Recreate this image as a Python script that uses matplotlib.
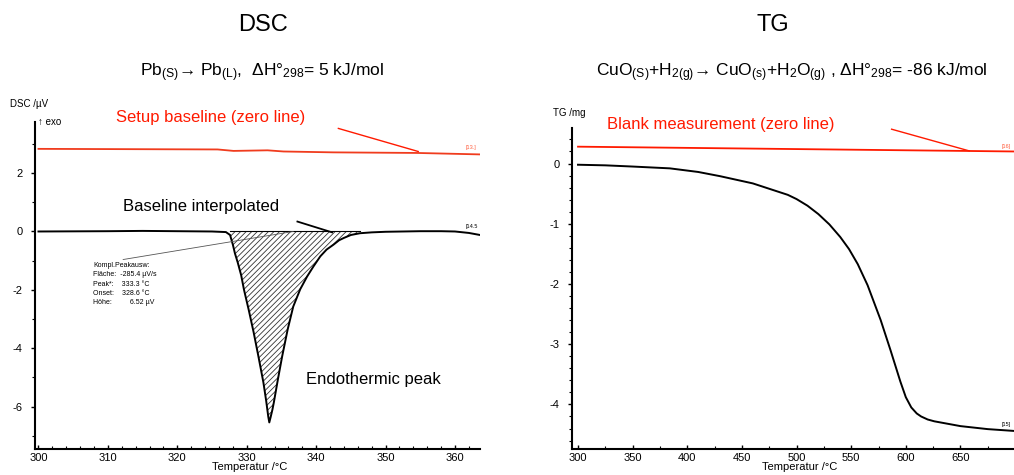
import matplotlib
matplotlib.use("Agg")
import matplotlib.pyplot as plt
from matplotlib.ticker import MultipleLocator
import numpy as np

plt.rcParams['font.family'] = ['Liberation Sans', 'DejaVu Sans']
plt.rcParams['mathtext.fontset'] = 'custom'
plt.rcParams['mathtext.rm'] = 'Liberation Sans'
plt.rcParams['mathtext.it'] = 'Liberation Sans:italic'
plt.rcParams['hatch.linewidth'] = 0.6
plt.rcParams['axes.unicode_minus'] = False

# DSC data (Pb melting)
dsc_T = [300, 305, 310, 315, 320, 325, 327.0, 327.6, 328.0, 328.3, 328.7, 329.2, 329.6,
         330.3, 331.0, 331.7, 332.4, 332.8, 333.1, 333.25, 333.45, 333.7, 333.9, 334.5,
         335.1, 335.9, 336.7, 337.7, 338.7, 339.6, 340.6, 341.5, 342.5, 343.3, 344.0,
         345.0, 346.3, 348, 350, 355, 358, 360, 362, 363.6]
dsc_v = [0.0, 0.005, 0.01, 0.02, 0.01, 0.0, -0.02, -0.12, -0.45, -0.75, -1.06, -1.5, -1.99,
         -2.7, -3.46, -4.3, -5.17, -5.8, -6.34, -6.54, -6.35, -6.1, -5.86, -5.05,
         -4.28, -3.35, -2.57, -1.98, -1.54, -1.2, -0.85, -0.62, -0.45, -0.3, -0.22,
         -0.12, -0.06, -0.03, -0.01, 0.01, 0.01, 0.0, -0.05, -0.12]
dsc_base_T = [300, 325.8, 328.1, 333, 335.3, 342.5, 354.5, 363.6]
dsc_base_v = [2.83, 2.81, 2.76, 2.78, 2.74, 2.71, 2.69, 2.64]

# TG data (CuO reduction)
tg_T = [300, 325, 350, 384, 410, 430, 460, 492, 500, 510, 520, 530, 540, 548, 556,
        565, 577, 586, 595, 600, 605, 610, 614, 620, 626, 650, 675, 699]
tg_m = [-0.02, -0.03, -0.05, -0.08, -0.14, -0.21, -0.33, -0.52, -0.59, -0.70, -0.84,
        -1.01, -1.22, -1.42, -1.67, -2.02, -2.6, -3.1, -3.62, -3.88, -4.05, -4.15, -4.2,
        -4.25, -4.28, -4.36, -4.41, -4.44]
tg_blank_T = [300, 700]
tg_blank_m = [0.28, 0.20]

fig = plt.figure(figsize=(10.14, 4.75), dpi=100)
ax1 = fig.add_axes([35/1014, 26/475, 445/1014, 327/475])
ax2 = fig.add_axes([572/1014, 26/475, 442/1014, 321/475])

for ax in (ax1, ax2):
    ax.spines['top'].set_visible(False)
    ax.spines['right'].set_visible(False)
    ax.spines['left'].set_linewidth(1.5)
    ax.spines['bottom'].set_linewidth(1.5)
    ax.tick_params(axis='x', direction='in', length=3, width=1, labelsize=8, pad=3)
    ax.tick_params(axis='x', which='minor', direction='in', length=2, width=0.8)
    ax.tick_params(axis='y', direction='out', length=3, width=1, labelsize=8, pad=6)
    ax.tick_params(axis='y', which='minor', direction='out', length=2, width=0.8)

# ---- DSC ----
ax1.plot(dsc_base_T, dsc_base_v, color='#f03c1e', lw=1.3)
ax1.plot(dsc_T, dsc_v, color='black', lw=1.4)
T = np.array(dsc_T)
v = np.array(dsc_v)
m = (T >= 327.6) & (T <= 346.3)
ax1.fill_between(T[m], v[m], 0, facecolor='none', edgecolor='#333333', hatch='//////', lw=0)
ax1.plot([327.6, 346.3], [0, 0], color='black', lw=0.8)
ax1.set_xlim(299.5, 363.6)
ax1.set_ylim(-7.45, 3.75)
ax1.xaxis.set_major_locator(MultipleLocator(10))
ax1.xaxis.set_minor_locator(MultipleLocator(2))
ax1.yaxis.set_major_locator(MultipleLocator(2))
ax1.yaxis.set_minor_locator(MultipleLocator(1))

ax1.text(311.2, 3.9, 'Setup baseline (zero line)', color='#ff1a00', fontsize=12,
         va='center', clip_on=False)
ax1.plot([343.2, 354.7], [3.53, 2.74], color='#ff1a00', lw=1)
ax1.text(312.2, 0.86, 'Baseline interpolated', color='black', fontsize=12, va='center')
ax1.plot([337.3, 342.3], [0.34, -0.03], color='black', lw=1.3)
ax1.text(338.5, -5.07, 'Endothermic peak', color='black', fontsize=12, va='center')
ax1.plot([312.2, 336.7], [-0.96, 0.0], color='#555555', lw=0.6)
ax1.text(307.9, -1.05, 'Kompl.Peakausw:\nFläche:  -285.4 µV/s\nPeak*:    333.3 °C\n'
         'Onset:    328.6 °C\nHöhe:         6.52 µV', fontsize=5, va='top',
         linespacing=1.45)
ax1.text(361.5, 2.82, '[13.]', color='#ff6040', fontsize=4)
ax1.text(361.5, 0.12, '[14.5', color='black', fontsize=4)

fig.text(10/1014, 1 - 104/475, 'DSC /µV', fontsize=7, va='center')
fig.text(38/1014, 1 - 122/475, '↑ exo', fontsize=7, va='center')
fig.text(250/1014, 1 - 467/475, 'Temperatur /°C', fontsize=8, ha='center', va='center')

# ---- TG ----
ax2.plot(tg_blank_T, tg_blank_m, color='#ff1a00', lw=1.3)
ax2.plot(tg_T, tg_m, color='black', lw=1.4)
ax2.set_xlim(294.5, 699)
ax2.set_ylim(-4.74, 0.59)
ax2.xaxis.set_major_locator(MultipleLocator(50))
ax2.xaxis.set_minor_locator(MultipleLocator(25))
ax2.yaxis.set_major_locator(MultipleLocator(1))
ax2.yaxis.set_minor_locator(MultipleLocator(0.2))

ax2.text(326.6, 0.64, 'Blank measurement (zero line)', color='#ff1a00', fontsize=12,
         va='center', clip_on=False)
ax2.plot([587, 658], [0.57, 0.21], color='#ff1a00', lw=1)
ax2.text(688, 0.26, '[16]', color='#ff6040', fontsize=4)
ax2.text(688, -4.36, '[15]', color='black', fontsize=4)

fig.text(553/1014, 1 - 113/475, 'TG /mg', fontsize=7, va='center')
fig.text(800/1014, 1 - 467/475, 'Temperatur /°C', fontsize=8, ha='center', va='center')

# ---- titles ----
fig.text(263/1014, 1 - 25/475, 'DSC', fontsize=17, ha='center', va='center')
fig.text(773/1014, 1 - 25/475, 'TG', fontsize=17, ha='center', va='center')
fig.text(262/1014, 1 - 73/475,
         r'Pb$_{\mathrm{(S)}}$→ Pb$_{\mathrm{(L)}}$,  ΔH°$_{\mathrm{298}}$= 5 kJ/mol',
         fontsize=12.5, ha='center', va='center')
fig.text(792/1014, 1 - 73/475,
         r'CuO$_{\mathrm{(S)}}$+H$_{\mathrm{2(g)}}$→ CuO$_{\mathrm{(s)}}$+H$_{\mathrm{2}}$O$_{\mathrm{(g)}}$ , '
         r'ΔH°$_{\mathrm{298}}$= -86 kJ/mol',
         fontsize=12.5, ha='center', va='center')

fig.savefig('out.png', dpi=100)
